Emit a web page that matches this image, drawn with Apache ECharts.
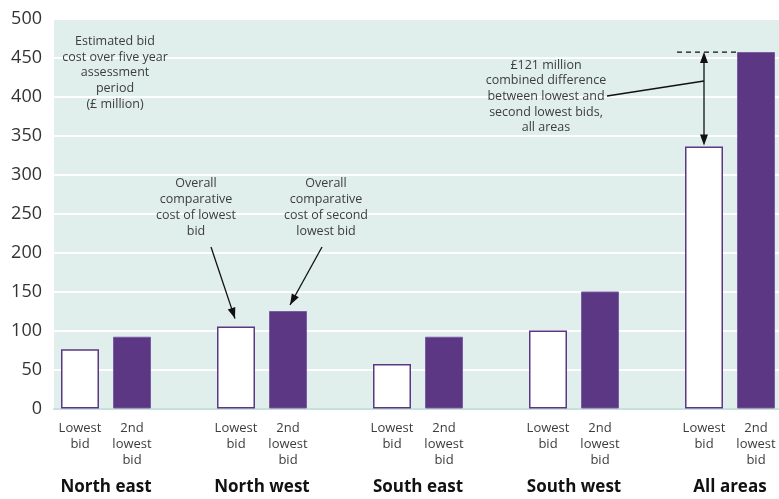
<!DOCTYPE html>
<html>
<head>
<meta charset="utf-8">
<script src="https://cdn.jsdelivr.net/npm/echarts@6/dist/echarts.min.js"></script>
<style>
  html, body { margin: 0; padding: 0; background: #ffffff; overflow: hidden; }
  #chart { width: 786px; height: 499px; }
</style>
</head>
<body>
<div id="chart"></div>
<script>
// Estimated bid cost over five-year assessment period (£ million)
const regions = ['North east', 'North west', 'South east', 'South west', 'All areas'];
const lowestBid = [76, 105, 57, 100, 336];
const secondLowestBid = [92, 125, 92, 150, 457];
const barLabels = ['Lowest\nbid', '2nd\nlowest\nbid'];
const yTicks = [0, 50, 100, 150, 200, 250, 300, 350, 400, 450, 500];

const FONT = '"Open Sans", "Noto Sans", sans-serif';
const PURPLE = '#5b3784';
const TEXT = '#3d3d3d';

// Each region takes a "lowest" slot and a "2nd lowest" slot, with an empty
// slot between regions.
const slots = [], slotKind = [], lowData = [], secData = [];
const lowSlot = [], secSlot = [];
regions.forEach((r, i) => {
  lowSlot.push(slots.length);
  slots.push(r + ' L'); slotKind.push(0); lowData.push(lowestBid[i]); secData.push('-');
  secSlot.push(slots.length);
  slots.push(r + ' 2'); slotKind.push(1); lowData.push('-'); secData.push(secondLowestBid[i]);
  if (i < regions.length - 1) {
    slots.push(r + ' gap'); slotKind.push(-1); lowData.push('-'); secData.push('-');
  }
});
// Region name sits between its two bars (slot boundary on a 0..n scale)
const regionPos = {};
regions.forEach((r, i) => { regionPos[lowSlot[i] + 1] = r; });

const chart = echarts.init(document.getElementById('chart'));
chart.setOption({
  animation: false,
  grid: {
    left: 54, right: 4, top: 18.5, bottom: 90.5,
    show: true, backgroundColor: '#e0efeb', borderWidth: 0
  },
  xAxis: [{
    type: 'category',
    data: slots,
    axisLine: { show: true, lineStyle: { color: '#c6e1da', width: 2 } },
    axisTick: { show: false },
    splitLine: { show: false },
    axisLabel: {
      interval: 0, margin: 12, color: TEXT, fontFamily: FONT, fontSize: 13,
      lineHeight: 16, verticalAlign: 'top',
      formatter: (v, idx) => slotKind[idx] < 0 ? '' : barLabels[slotKind[idx]]
    }
  }, {
    type: 'value', position: 'bottom', min: 0, max: slots.length, interval: 1,
    axisLine: { show: false }, axisTick: { show: false }, splitLine: { show: false },
    axisLabel: {
      margin: 70, color: '#111', fontFamily: FONT, fontSize: 17, fontWeight: 'bold',
      showMinLabel: true, showMaxLabel: true,
      formatter: v => regionPos[v] || ''
    }
  }],
  yAxis: {
    type: 'value', min: yTicks[0], max: yTicks[yTicks.length - 1], interval: 50,
    axisLine: { show: false }, axisTick: { show: false },
    splitLine: { show: true, lineStyle: { color: '#ffffff', width: 2 } },
    axisLabel: { margin: 12, color: '#333', fontFamily: FONT, fontSize: 18 }
  },
  series: [{
    name: 'Lowest bid', type: 'bar', data: lowData, barWidth: 38, barGap: '-100%',
    itemStyle: { color: '#ffffff', borderColor: PURPLE, borderWidth: 1.5 }
  }, {
    name: '2nd lowest bid', type: 'bar', data: secData, barWidth: 38, barGap: '-100%',
    itemStyle: { color: PURPLE, borderColor: '#7a5ca3', borderWidth: 1 }
  }]
});

// Annotations anchored to the bars
const px = (slot, val) => chart.convertToPixel({ gridIndex: 0 }, [slot, val]);

function arrowHead(x1, y1, x2, y2) {
  const a = Math.atan2(y2 - y1, x2 - x1), L = 11, W = 4;
  const bx = x2 - L * Math.cos(a), by = y2 - L * Math.sin(a);
  return {
    type: 'polygon', silent: true,
    shape: { points: [[x2, y2],
      [bx + W * Math.sin(a), by - W * Math.cos(a)],
      [bx - W * Math.sin(a), by + W * Math.cos(a)]] },
    style: { fill: '#111' }
  };
}
function line(x1, y1, x2, y2, dash) {
  return {
    type: 'line', silent: true,
    shape: { x1, y1, x2, y2 },
    style: { stroke: '#111', lineWidth: 1.3, lineDash: dash || null }
  };
}
function note(text, cx, firstCenterY, lh) {
  return {
    type: 'text', silent: true,
    style: {
      text, x: cx, y: firstCenterY - lh / 2, align: 'center', verticalAlign: 'top',
      fill: TEXT, font: '12.5px ' + FONT, lineHeight: lh
    }
  };
}

const g = [];
g.push(note('Estimated bid\ncost over five year\nassessment\nperiod\n(£ million)', 115, 41.7, 15.6));

// North west pointers
const nwLow = px(lowSlot[1], lowestBid[1]);
const nwSec = px(secSlot[1], secondLowestBid[1]);
g.push(note('Overall\ncomparative\ncost of lowest\nbid', 196, 183.3, 16));
g.push(note('Overall\ncomparative\ncost of second\nlowest bid', 326, 183.3, 16));
g.push(line(211, 247, nwLow[0] - 1, nwLow[1] - 8), arrowHead(211, 247, nwLow[0] - 1, nwLow[1] - 8));
g.push(line(322, 247, nwSec[0] + 2, nwSec[1] - 6), arrowHead(322, 247, nwSec[0] + 2, nwSec[1] - 6));

// All areas difference
const allLow = px(lowSlot[4], lowestBid[4]);
const allSec = px(secSlot[4], secondLowestBid[4]);
const xArrow = allLow[0];
g.push(line(xArrow - 27, allSec[1], allSec[0] - 19, allSec[1], [5, 4]));
g.push(line(xArrow, allSec[1] + 6, xArrow, allLow[1] - 6));
g.push(arrowHead(xArrow, allLow[1], xArrow, allSec[1]));
g.push(arrowHead(xArrow, allSec[1], xArrow, allLow[1] - 1));
g.push(line(607, 96, xArrow, 81));
g.push(note('£121 million\ncombined difference\nbetween lowest and\nsecond lowest bids,\nall areas', 546, 65, 15.7));

chart.setOption({ graphic: g });
</script>
</body>
</html>
